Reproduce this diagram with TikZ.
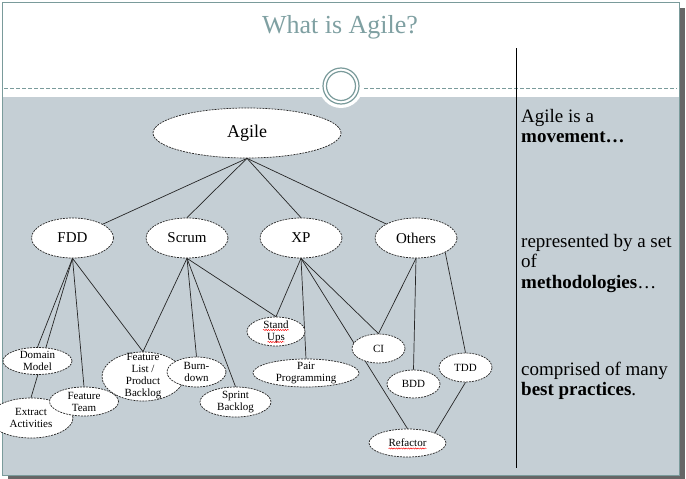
\documentclass[tikz,border=0pt]{standalone}
\usepackage{fontspec}
\setmainfont{Liberation Serif}
\usetikzlibrary{shapes.geometric,decorations.pathmorphing,calc}
\definecolor{band}{RGB}{197,207,213}
\definecolor{tealline}{RGB}{122,155,155}
\definecolor{titlec}{RGB}{127,160,162}
\pgfdeclarelayer{back}
\pgfdeclarelayer{edges}
\pgfsetlayers{back,edges,main}
\begin{document}
\begin{tikzpicture}[x=1pt,y=-1pt,
  oval/.style={ellipse, draw=black!85, dash pattern=on 2pt off 1pt, line width=0.7pt, fill=white, inner sep=0pt},
  lt/.style={align=center, inner sep=0pt, font=\fontsize{11}{12}\selectfont},
  mid/.style={oval, minimum width=82pt, minimum height=40pt, font=\fontsize{15}{18}\selectfont},
  link/.style={draw=black!85, line width=0.7pt},
  wavy/.style={draw=red, line width=0.45pt, decorate, decoration={snake, amplitude=0.6pt, segment length=2.4pt}},
  side/.style={anchor=base west, inner sep=0pt, font=\fontsize{19}{21}\selectfont}]
\useasboundingbox (0,0) rectangle (686,479);
\clip (0,0) rectangle (686,479);
\begin{pgfonlayer}{back}
  \fill[black!60] (8,8) rectangle (685,479);
  \fill[white] (2,2) rectangle (679,475);
  \fill[band] (2,97) rectangle (679,475);
  \draw[tealline, line width=1pt] (2,2) rectangle (679,475);
  \draw[tealline, line width=0.8pt, dash pattern=on 4pt off 2pt] (4,88) -- (677,88);
  \fill[white] (341,86) circle (22pt);
  \draw[tealline, line width=1.2pt] (341,86) circle (18pt);
  \draw[tealline, line width=1.2pt] (341,86) circle (14.5pt);
  \draw[black, line width=0.8pt] (516,48) -- (516,468);
\end{pgfonlayer}

\node[anchor=base, text=titlec, font=\fontsize{26}{30}\selectfont] (title) at (340,33) {What is Agile?};

\node[oval, minimum width=188pt, minimum height=50pt, font=\fontsize{18}{20}\selectfont] (agile) at (247,133) {Agile};
\node[mid] (fdd) at (72.5,238) {FDD};
\node[mid] (scrum) at (187,238) {Scrum};
\node[mid] (xp) at (301,238) {XP};
\node[mid] (others) at (416,238) {Others};

\node[oval, minimum width=84pt, minimum height=40pt, label={[lt]center:{Extract\\Activities}}] (ea) at (31,418) {};
\node[oval, minimum width=69pt, minimum height=27pt, label={[lt]center:{Domain\\Model}}] (dm) at (37.5,361) {};
\node[oval, minimum width=69pt, minimum height=29pt, label={[lt]center:{Feature\\Team}}] (ft) at (84,401.5) {};
\node[oval, minimum width=82pt, minimum height=49pt, label={[lt]center:{Feature\\List /\\Product\\Backlog}}] (fl) at (143,376.5) {};
\node[oval, minimum width=59pt, minimum height=30pt, label={[lt]center:{Burn-\\down}}] (bd) at (196.5,372) {};
\node[oval, minimum width=71pt, minimum height=30pt, label={[lt]center:{Sprint\\Backlog}}] (sb) at (235.5,402) {};
\node[oval, minimum width=58pt, minimum height=29pt, label={[lt]center:{Stand\\Ups}}] (su) at (276,331.5) {};
\node[oval, minimum width=106pt, minimum height=28pt, label={[lt]center:{Pair\\Programming}}] (pp) at (306,373) {};
\node[oval, minimum width=53pt, minimum height=29pt, label={[lt]center:{CI}}] (ci) at (378.5,348.5) {};
\node[oval, minimum width=53pt, minimum height=28pt, label={[lt]center:{BDD}}] (bdd) at (413.5,384) {};
\node[oval, minimum width=53pt, minimum height=29pt, label={[lt]center:{TDD}}] (tdd) at (465.5,367.5) {};
\node[oval, minimum width=77pt, minimum height=28pt, label={[lt]center:{Refactor}}] (rf) at (407.5,443) {};

\draw[wavy] ($(su.center)+(-13,-1.5)$) -- ($(su.center)+(13,-1.5)$);
\draw[wavy] ($(su.center)+(-8.5,10.5)$) -- ($(su.center)+(8.5,10.5)$);
\draw[wavy] ($(rf.center)+(-19,5.5)$) -- ($(rf.center)+(19,5.5)$);

\begin{pgfonlayer}{edges}
  \draw[link] (agile.south) -- (fdd);
  \draw[link] (agile.south) -- (scrum.north);
  \draw[link] (agile.south) -- (xp.north);
  \draw[link] (agile.south) -- (others);
  \draw[link] (fdd.south) -- (dm.north);
  \draw[link] (fdd.south) -- (ea.north);
  \draw[link] (fdd.south) -- (ft.north);
  \draw[link] (fdd.south) -- (fl.north);
  \draw[link] (scrum.south) -- (fl.north);
  \draw[link] (scrum.south) -- (bd.north);
  \draw[link] (scrum.south) -- (sb.north);
  \draw[link] (scrum.south) -- (su.north);
  \draw[link] (xp.south) -- (su.north);
  \draw[link] (xp.south) -- (pp.north);
  \draw[link] (xp.south) -- (ci.north);
  \draw[link] (xp.south) -- (rf.north);
  \draw[link] (others.south) -- (ci.north);
  \draw[link] (others.south) -- (bdd.north);
  \draw[link] (others.south east) -- (tdd.north);
  \draw[link] (tdd.south) -- (rf.north east);
\end{pgfonlayer}

\node[side] (t1) at (521,122) {Agile is a};
\node[side] (t2) at (521,142) {\textbf{movement…}};
\node[side] (t3) at (521,247) {represented by a set};
\node[side] (t4) at (521,267) {of};
\node[side] (t5) at (521,288) {\textbf{methodologies}…};
\node[side] (t6) at (521,375) {comprised of many};
\node[side] (t7) at (521,395) {\textbf{best practices}.};
\end{tikzpicture}
\end{document}
